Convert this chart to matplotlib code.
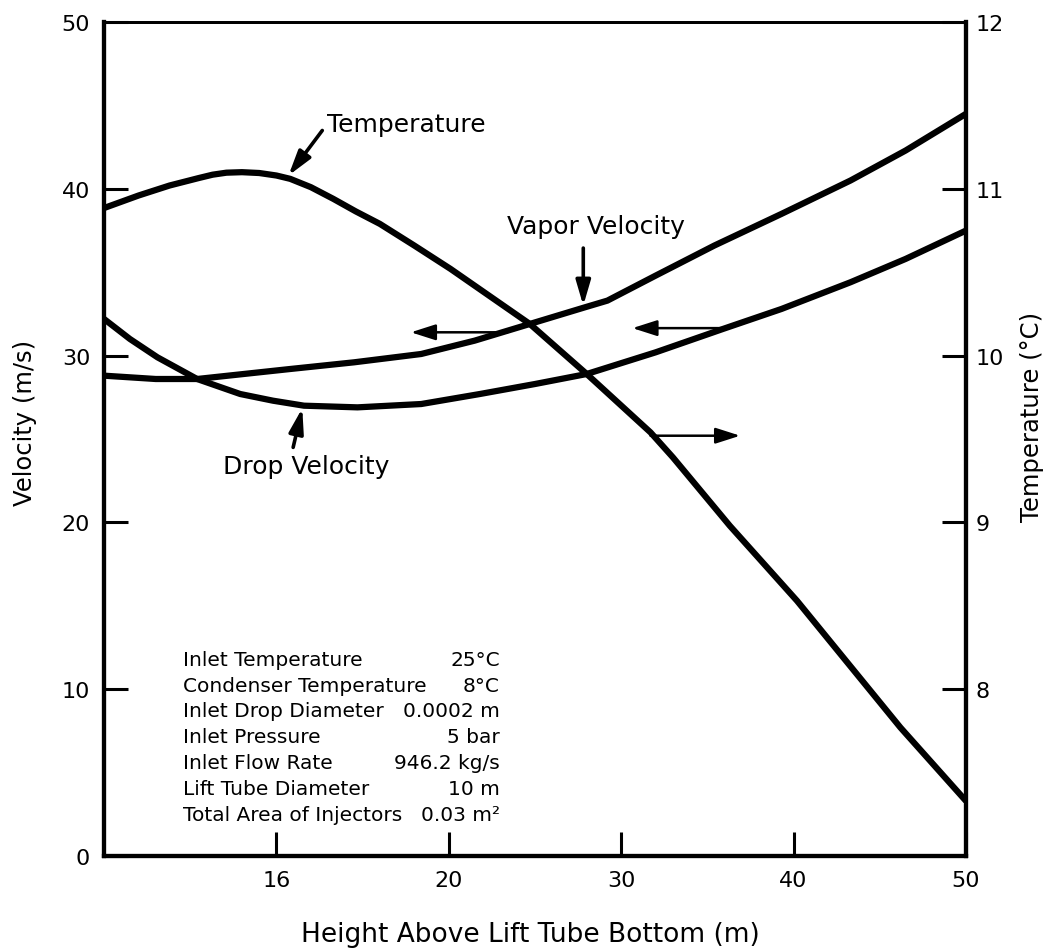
import matplotlib.pyplot as plt

# ------------------------------------------------------------------
# Data (height above lift tube bottom, m)
# ------------------------------------------------------------------
vapor_height = [0, 3, 5.4, 10.8, 14.5, 18.4, 21.5, 24.7, 27.9, 29.2,
                32.0, 35.4, 39.3, 43.3, 46.5, 50]
vapor_velocity = [28.8, 28.6, 28.6, 29.2, 29.6, 30.1, 30.9, 31.9, 32.9, 33.3,
                  34.8, 36.6, 38.5, 40.5, 42.3, 44.5]

drop_height = [0, 1.5, 3.1, 5.4, 7.9, 9.8, 11.6, 14.7, 18.4, 21.8, 25.0, 28.0,
               32.0, 35.9, 39.3, 43.3, 46.5, 50]
drop_velocity = [32.2, 31.0, 29.9, 28.6, 27.7, 27.3, 27.0, 26.9, 27.1, 27.7, 28.3, 28.9,
                 30.2, 31.6, 32.8, 34.4, 35.8, 37.5]

temp_height = [0, 2, 3.8, 5.5, 6.3, 7.1, 8.0, 9.0, 10.0, 10.8, 12.0, 13.3, 14.6,
               16.0, 18.0, 20.1, 24.7, 28.0, 31.7, 33.0, 36.3, 40.2, 43.2, 46.2, 50]
temperature = [10.885, 10.96, 11.02, 11.065, 11.085, 11.097, 11.10, 11.095, 11.08,
               11.06, 11.01, 10.94, 10.865, 10.79, 10.66, 10.52, 10.19, 9.89, 9.54,
               9.39, 8.98, 8.53, 8.15, 7.77, 7.33]

x_ticks = [10, 20, 30, 40, 50]
x_tick_labels = ["16", "20", "30", "40", "50"]
vel_ticks = [0, 10, 20, 30, 40, 50]
temp_ticks = [8, 9, 10, 11, 12]

conditions = [
    ("Inlet Temperature", "25°C"),
    ("Condenser Temperature", "8°C"),
    ("Inlet Drop Diameter", "0.0002 m"),
    ("Inlet Pressure", "5 bar"),
    ("Inlet Flow Rate", "946.2 kg/s"),
    ("Lift Tube Diameter", "10 m"),
    ("Total Area of Injectors", "0.03 m²"),
]

# ------------------------------------------------------------------
# Figure and the two y axes
# ------------------------------------------------------------------
fig = plt.figure(figsize=(10.54, 9.53), dpi=100)
ax = fig.add_axes([0.0987, 0.1007, 0.8178, 0.8751])
ax2 = ax.twinx()

line_style = dict(color="black", lw=4.5, solid_capstyle="butt",
                  solid_joinstyle="round")
ax.plot(vapor_height, vapor_velocity, **line_style)
ax.plot(drop_height, drop_velocity, **line_style)
ax2.plot(temp_height, temperature, **line_style)

ax.set_xlim(0, 50)
ax.set_ylim(0, 50)
ax2.set_ylim(7, 12)

ax.set_xticks(x_ticks)
ax.set_xticklabels(x_tick_labels)
ax.set_yticks(vel_ticks)
ax2.set_yticks(temp_ticks)

ax.tick_params(axis="both", direction="in", length=17, width=2.2,
               labelsize=16, pad=10)
ax.tick_params(axis="y", right=False)
ax2.tick_params(axis="y", direction="in", length=17, width=2.2,
                labelsize=16, pad=7)

for a in (ax, ax2):
    for side in ("left", "right", "bottom"):
        a.spines[side].set_linewidth(3)
    a.spines["top"].set_linewidth(2)

# axis titles
fig.text(25 / 1054, 1 - 423 / 953, "Velocity (m/s)", rotation=90,
         ha="center", va="center", fontsize=17.5)
fig.text(1032 / 1054, 1 - 417 / 953, "Temperature (°C)", rotation=90,
         ha="center", va="center", fontsize=17.5)
fig.text(530 / 1054, 1 - 935 / 953, "Height Above Lift Tube Bottom (m)",
         ha="center", va="center", fontsize=19)

# ------------------------------------------------------------------
# Curve labels and arrows (left axis data coordinates)
# ------------------------------------------------------------------
label_arrow = dict(arrowstyle="-|>,head_length=0.75,head_width=0.22",
                   color="black", lw=2.6, mutation_scale=20,
                   shrinkA=0, shrinkB=0)
side_arrow = dict(arrowstyle="-|>,head_length=0.75,head_width=0.24",
                  color="black", lw=1.8, mutation_scale=20,
                  shrinkA=0, shrinkB=0)

ax.text(12.95, 43.9, "Temperature", fontsize=18, ha="left", va="center")
ax.annotate("", xy=(10.7, 40.8), xytext=(12.66, 43.5), arrowprops=label_arrow)

ax.text(23.4, 37.8, "Vapor Velocity", fontsize=18, ha="left", va="center")
ax.annotate("", xy=(27.8, 33.0), xytext=(27.8, 36.45), arrowprops=label_arrow)

ax.text(6.9, 23.4, "Drop Velocity", fontsize=18, ha="left", va="center")
ax.annotate("", xy=(11.5, 26.85), xytext=(10.97, 24.5), arrowprops=label_arrow)

# which axis each curve is read on
ax.annotate("", xy=(17.8, 31.4), xytext=(23.4, 31.4), arrowprops=side_arrow)
ax.annotate("", xy=(30.65, 31.65), xytext=(35.9, 31.65), arrowprops=side_arrow)
ax.annotate("", xy=(36.9, 25.2), xytext=(31.7, 25.2), arrowprops=side_arrow)

# operating conditions block
for i, (name, value) in enumerate(conditions):
    y = 0.236 - i * 0.031
    ax.text(0.0917, y, name, transform=ax.transAxes, fontsize=14.5,
            ha="left", va="center")
    ax.text(0.459, y, value, transform=ax.transAxes, fontsize=14.5,
            ha="right", va="center")

fig.savefig("out.png", dpi=100)
